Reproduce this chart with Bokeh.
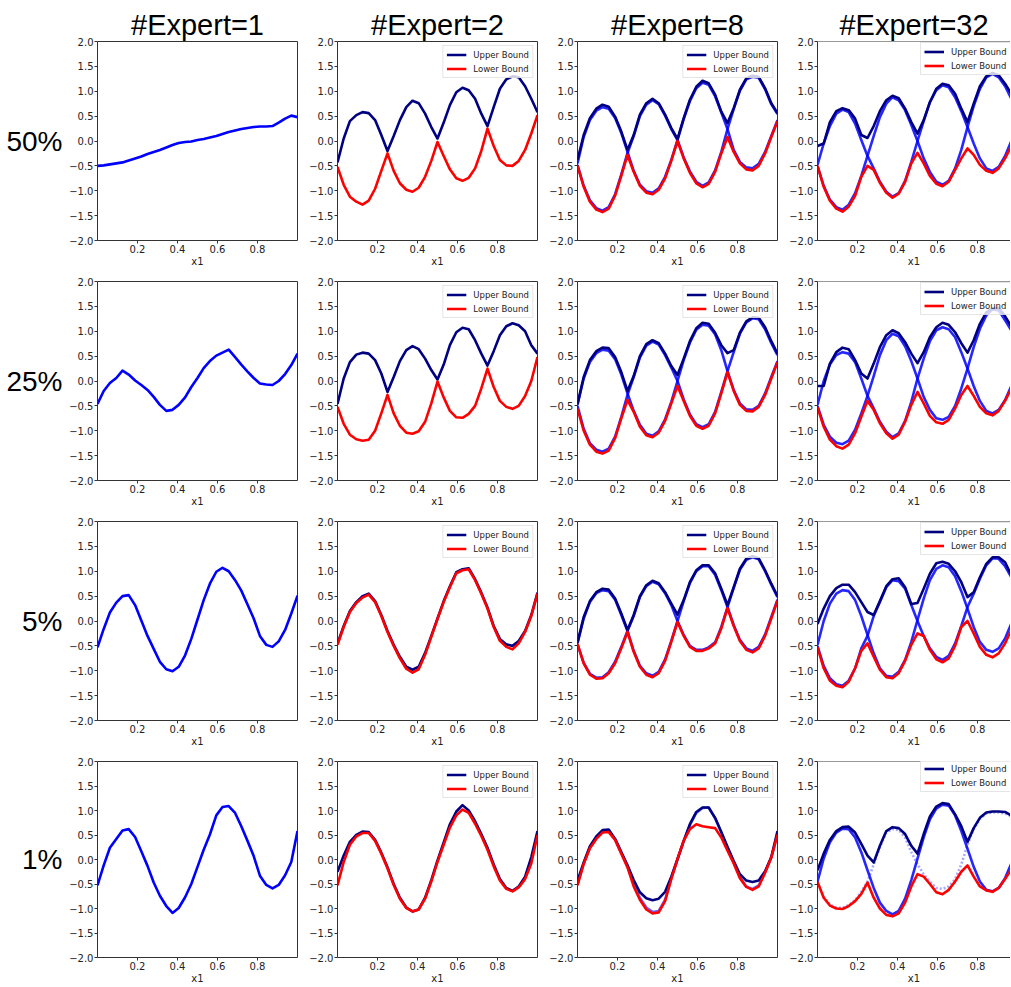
from bokeh.plotting import figure
from bokeh.layouts import column, row
from bokeh.models import Range1d, FixedTicker, Legend, LegendItem, Span, Label
from bokeh.embed import file_html
from bokeh.resources import INLINE

# ---------------- data ----------------
X = [0.0, 0.031, 0.062, 0.094, 0.125, 0.156, 0.188, 0.219, 0.25, 0.281, 0.312, 0.344, 0.375,
     0.406, 0.438, 0.469, 0.5, 0.531, 0.562, 0.594, 0.625, 0.656, 0.688, 0.719, 0.75, 0.781,
     0.812, 0.844, 0.875, 0.906, 0.938, 0.969, 1.0]

ROW_LABELS = ["50%", "25%", "5%", "1%"]
COL_TITLES = ["#Expert=1", "#Expert=2", "#Expert=8", "#Expert=32"]
X_TICKS = [0.2, 0.4, 0.6, 0.8]
X_LABELS = ["0.2", "0.4", "0.6", "0.8"]
Y_TICKS = [-2.0, -1.5, -1.0, -0.5, 0.0, 0.5, 1.0, 1.5, 2.0]
Y_LABELS = ["\u22122.0", "\u22121.5", "\u22121.0", "\u22120.5", "0.0", "0.5", "1.0", "1.5", "2.0"]
LEGEND_LABELS = ["Upper Bound", "Lower Bound"]

# ----- 50% -----
E1_50 = [-0.50, -0.49, -0.47, -0.45, -0.43, -0.39, -0.35, -0.31, -0.26, -0.22, -0.18, -0.13, -0.08,
         -0.04, -0.02, -0.01, 0.02, 0.04, 0.07, 0.10, 0.14, 0.18, 0.21, 0.24, 0.26, 0.28, 0.29, 0.29,
         0.30, 0.37, 0.45, 0.51, 0.48]
E2_50_U = [-0.43, 0.05, 0.40, 0.52, 0.58, 0.56, 0.42, 0.12, -0.20, 0.10, 0.42, 0.68, 0.81, 0.76, 0.55,
           0.28, 0.05, 0.37, 0.72, 0.98, 1.07, 1.02, 0.85, 0.55, 0.30, 0.68, 1.05, 1.24, 1.30, 1.28,
           1.10, 0.85, 0.58]
E2_50_L = [-0.52, -0.88, -1.12, -1.22, -1.28, -1.20, -0.96, -0.60, -0.25, -0.60, -0.85, -0.98, -1.02,
           -0.94, -0.72, -0.40, -0.02, -0.30, -0.57, -0.75, -0.80, -0.74, -0.55, -0.20, 0.25, -0.10,
           -0.38, -0.49, -0.50, -0.40, -0.18, 0.15, 0.52]
E8_50_U = [-0.38, 0.12, 0.46, 0.65, 0.73, 0.69, 0.49, 0.19, -0.18, 0.12, 0.53, 0.76, 0.85, 0.76, 0.53,
           0.26, 0.04, 0.46, 0.83, 1.09, 1.21, 1.16, 0.93, 0.59, 0.36, 0.66, 1.03, 1.26, 1.31, 1.29,
           1.06, 0.76, 0.56]
E8_50_L = [-0.50, -0.92, -1.22, -1.38, -1.43, -1.36, -1.10, -0.70, -0.28, -0.62, -0.90, -1.04, -1.07,
           -0.98, -0.75, -0.40, 0.00, -0.35, -0.64, -0.85, -0.93, -0.86, -0.62, -0.25, 0.08, -0.22,
           -0.45, -0.57, -0.59, -0.50, -0.25, 0.08, 0.40]
E8_50_A = [-0.45, 0.08, 0.42, 0.61, 0.68, 0.65, 0.46, 0.16, -0.22, -0.60, -0.88, -1.01, -1.04, -0.95,
           -0.72, -0.38, 0.02, 0.44, 0.80, 1.06, 1.17, 1.13, 0.90, 0.57, 0.24, -0.18, -0.42, -0.53,
           -0.55, -0.46, -0.22, 0.10, 0.42]
E8_50_B = [-0.48, -0.90, -1.19, -1.35, -1.40, -1.33, -1.07, -0.67, -0.24, 0.10, 0.50, 0.73, 0.82, 0.74,
           0.51, 0.24, 0.02, -0.33, -0.61, -0.82, -0.90, -0.83, -0.59, -0.22, 0.24, 0.64, 1.01, 1.24,
           1.29, 1.27, 1.04, 0.74, 0.54]
E32_50_U = [-0.10, -0.05, 0.38, 0.60, 0.66, 0.62, 0.45, 0.12, 0.06, 0.30, 0.60, 0.82, 0.91, 0.86, 0.65,
            0.38, 0.15, 0.42, 0.78, 1.05, 1.15, 1.12, 0.95, 0.65, 0.38, 0.75, 1.10, 1.30, 1.37, 1.32,
            1.15, 0.95, 0.75]
E32_50_L = [-0.50, -0.92, -1.20, -1.36, -1.42, -1.32, -1.10, -0.72, -0.50, -0.58, -0.84, -1.04, -1.14,
            -1.06, -0.82, -0.45, -0.24, -0.45, -0.70, -0.86, -0.91, -0.82, -0.58, -0.35, -0.15, -0.28,
            -0.48, -0.60, -0.64, -0.55, -0.35, -0.10, 0.10]
E32_50_A = [-0.48, -0.05, 0.30, 0.55, 0.63, 0.58, 0.35, 0.02, -0.30, -0.55, -0.82, -1.02, -1.12, -1.05,
            -0.80, -0.42, 0.00, 0.40, 0.78, 1.02, 1.12, 1.08, 0.88, 0.60, 0.28, -0.05, -0.35, -0.55,
            -0.60, -0.52, -0.30, 0.00, 0.25]
E32_50_B = [-0.50, -0.90, -1.18, -1.33, -1.38, -1.28, -1.05, -0.70, -0.30, 0.10, 0.48, 0.75, 0.88, 0.82,
            0.62, 0.32, 0.00, -0.35, -0.62, -0.82, -0.88, -0.80, -0.55, -0.18, 0.28, 0.70, 1.05, 1.28,
            1.35, 1.28, 1.10, 0.85, 0.60]

# ----- 25% -----
E1_25 = [-0.46, -0.20, -0.04, 0.06, 0.21, 0.13, 0.01, -0.08, -0.18, -0.32, -0.48, -0.60, -0.58, -0.48,
         -0.33, -0.12, 0.06, 0.26, 0.40, 0.51, 0.57, 0.63, 0.48, 0.33, 0.19, 0.06, -0.05, -0.07, -0.08,
         0.00, 0.14, 0.32, 0.55]
E2_25_U = [-0.46, 0.05, 0.38, 0.53, 0.57, 0.55, 0.42, 0.15, -0.22, 0.08, 0.40, 0.62, 0.70, 0.64, 0.45,
           0.22, 0.03, 0.33, 0.72, 0.98, 1.07, 1.04, 0.82, 0.55, 0.31, 0.60, 0.92, 1.10, 1.16, 1.12,
           1.00, 0.72, 0.55]
E2_25_L = [-0.52, -0.86, -1.08, -1.17, -1.20, -1.18, -1.00, -0.65, -0.28, -0.65, -0.90, -1.04, -1.06,
           -1.01, -0.82, -0.45, -0.01, -0.33, -0.60, -0.73, -0.74, -0.66, -0.50, -0.15, 0.25, -0.12,
           -0.40, -0.52, -0.56, -0.50, -0.30, 0.00, 0.48]
E8_25_U = [-0.46, 0.08, 0.42, 0.60, 0.67, 0.66, 0.48, 0.18, -0.20, 0.10, 0.50, 0.74, 0.82, 0.76, 0.55,
           0.30, 0.12, 0.45, 0.80, 1.06, 1.17, 1.15, 0.97, 0.72, 0.56, 0.62, 0.97, 1.20, 1.28, 1.27,
           1.08, 0.80, 0.55]
E8_25_L = [-0.56, -1.00, -1.28, -1.42, -1.46, -1.40, -1.15, -0.75, -0.38, -0.62, -0.92, -1.09, -1.13,
           -1.04, -0.80, -0.45, -0.10, -0.40, -0.70, -0.90, -0.96, -0.90, -0.65, -0.25, 0.18, -0.20,
           -0.48, -0.60, -0.61, -0.52, -0.28, 0.05, 0.38]
E8_25_A = [-0.48, 0.05, 0.38, 0.56, 0.63, 0.61, 0.44, 0.13, -0.25, -0.60, -0.88, -1.06, -1.10, -1.01,
           -0.77, -0.42, 0.00, 0.42, 0.77, 1.03, 1.13, 1.11, 0.94, 0.62, 0.20, -0.18, -0.45, -0.57,
           -0.58, -0.50, -0.25, 0.08, 0.40]
E8_25_B = [-0.50, -0.96, -1.25, -1.38, -1.42, -1.36, -1.12, -0.72, -0.28, 0.08, 0.47, 0.71, 0.79, 0.73,
           0.52, 0.27, 0.00, -0.37, -0.67, -0.87, -0.93, -0.87, -0.62, -0.22, 0.20, 0.58, 0.95, 1.18,
           1.26, 1.24, 1.04, 0.76, 0.52]
E32_25_U = [-0.10, -0.10, 0.35, 0.58, 0.67, 0.64, 0.42, 0.15, 0.05, 0.35, 0.68, 0.92, 1.02, 0.96, 0.78,
            0.55, 0.36, 0.58, 0.88, 1.08, 1.17, 1.13, 0.98, 0.76, 0.57, 0.82, 1.15, 1.38, 1.46, 1.47,
            1.30, 1.10, 0.85]
E32_25_L = [-0.53, -0.92, -1.18, -1.31, -1.36, -1.28, -1.05, -0.72, -0.40, -0.58, -0.85, -1.05, -1.16,
            -1.08, -0.82, -0.48, -0.22, -0.45, -0.70, -0.83, -0.86, -0.78, -0.55, -0.28, -0.10, -0.30,
            -0.52, -0.65, -0.69, -0.60, -0.40, -0.15, 0.10]
E32_25_A = [-0.48, 0.00, 0.33, 0.52, 0.58, 0.55, 0.38, 0.05, -0.30, -0.55, -0.82, -1.02, -1.13, -1.05,
            -0.80, -0.42, 0.05, 0.45, 0.80, 1.02, 1.08, 1.04, 0.88, 0.58, 0.25, -0.10, -0.40, -0.60,
            -0.65, -0.58, -0.38, -0.10, 0.15]
E32_25_B = [-0.50, -0.88, -1.12, -1.24, -1.27, -1.20, -0.98, -0.65, -0.30, 0.10, 0.52, 0.82, 0.95, 0.90,
            0.70, 0.40, 0.05, -0.32, -0.58, -0.75, -0.78, -0.72, -0.50, -0.15, 0.25, 0.68, 1.05, 1.32,
            1.44, 1.42, 1.22, 1.02, 0.82]

# ----- 5% -----
E1_5 = [-0.53, -0.16, 0.17, 0.37, 0.50, 0.52, 0.32, 0.01, -0.30, -0.56, -0.82, -0.97, -1.01, -0.92,
        -0.69, -0.36, 0.03, 0.42, 0.75, 0.99, 1.07, 1.00, 0.82, 0.61, 0.33, 0.05, -0.30, -0.48, -0.52,
        -0.41, -0.18, 0.15, 0.51]
E2_5_U = [-0.45, -0.10, 0.20, 0.38, 0.50, 0.55, 0.40, 0.12, -0.20, -0.48, -0.72, -0.92, -0.98, -0.92,
          -0.64, -0.30, 0.05, 0.40, 0.70, 0.98, 1.04, 1.06, 0.84, 0.57, 0.27, -0.10, -0.36, -0.47, -0.50,
          -0.40, -0.20, 0.12, 0.57]
E2_5_L = [-0.48, -0.12, 0.18, 0.36, 0.47, 0.53, 0.38, 0.10, -0.22, -0.50, -0.75, -0.96, -1.04, -0.97,
          -0.68, -0.32, 0.04, 0.38, 0.68, 0.96, 1.02, 1.04, 0.82, 0.55, 0.25, -0.12, -0.40, -0.52, -0.57,
          -0.45, -0.22, 0.10, 0.55]
E8_5_U = [-0.43, 0.08, 0.40, 0.58, 0.65, 0.63, 0.45, 0.15, -0.18, 0.12, 0.50, 0.72, 0.81, 0.76, 0.58,
          0.35, 0.13, 0.42, 0.78, 1.02, 1.12, 1.12, 0.96, 0.65, 0.32, 0.68, 1.05, 1.25, 1.30, 1.26,
          1.02, 0.75, 0.50]
E8_5_L = [-0.46, -0.85, -1.08, -1.16, -1.15, -1.05, -0.85, -0.55, -0.22, -0.62, -0.92, -1.08, -1.13,
          -1.05, -0.80, -0.42, -0.02, -0.30, -0.52, -0.60, -0.60, -0.55, -0.45, -0.15, 0.26, -0.10,
          -0.40, -0.58, -0.63, -0.55, -0.30, 0.05, 0.41]
E8_5_A = [-0.45, 0.05, 0.38, 0.56, 0.62, 0.60, 0.43, 0.12, -0.20, -0.60, -0.90, -1.05, -1.10, -1.02,
          -0.77, -0.40, 0.00, 0.40, 0.76, 1.00, 1.10, 1.10, 0.93, 0.62, 0.28, -0.08, -0.38, -0.55, -0.60,
          -0.52, -0.27, 0.08, 0.43]
E8_5_B = [-0.47, -0.84, -1.06, -1.14, -1.13, -1.03, -0.82, -0.52, -0.20, 0.10, 0.48, 0.70, 0.79, 0.74,
          0.56, 0.32, 0.00, -0.28, -0.50, -0.58, -0.58, -0.53, -0.43, -0.12, 0.28, 0.66, 1.03, 1.23,
          1.28, 1.24, 1.00, 0.73, 0.48]
E32_5_U = [-0.06, 0.25, 0.50, 0.66, 0.73, 0.73, 0.58, 0.38, 0.18, 0.12, 0.40, 0.70, 0.84, 0.86, 0.68,
           0.34, 0.36, 0.65, 0.95, 1.16, 1.19, 1.15, 1.00, 0.78, 0.48, 0.58, 0.88, 1.15, 1.28, 1.28,
           1.18, 0.92, 0.75]
E32_5_L = [-0.53, -0.95, -1.20, -1.30, -1.33, -1.22, -0.95, -0.60, -0.45, -0.72, -0.98, -1.13, -1.15,
           -1.05, -0.80, -0.48, -0.25, -0.30, -0.58, -0.77, -0.83, -0.75, -0.50, -0.12, 0.00, -0.25,
           -0.52, -0.68, -0.73, -0.65, -0.45, -0.18, 0.05]
E32_5_A = [-0.48, 0.00, 0.35, 0.55, 0.62, 0.60, 0.42, 0.10, -0.28, -0.65, -0.95, -1.10, -1.12, -1.02,
           -0.78, -0.42, 0.02, 0.45, 0.82, 1.05, 1.12, 1.08, 0.90, 0.60, 0.25, -0.12, -0.42, -0.58,
           -0.62, -0.55, -0.35, -0.05, 0.20]
E32_5_B = [-0.50, -0.90, -1.15, -1.27, -1.30, -1.20, -0.95, -0.55, -0.30, 0.10, 0.38, 0.68, 0.82, 0.80,
           0.65, 0.32, 0.00, -0.30, -0.55, -0.72, -0.78, -0.70, -0.45, -0.10, 0.28, 0.55, 0.85, 1.12,
           1.26, 1.25, 1.10, 0.88, 0.70]

# ----- 1% -----
E1_1 = [-0.53, -0.12, 0.24, 0.42, 0.59, 0.62, 0.46, 0.17, -0.13, -0.47, -0.74, -0.95, -1.09, -0.99,
        -0.77, -0.50, -0.15, 0.20, 0.51, 0.90, 1.07, 1.09, 0.95, 0.68, 0.38, 0.07, -0.33, -0.52, -0.59,
        -0.52, -0.32, -0.05, 0.58]
E2_1_U = [-0.25, 0.08, 0.36, 0.50, 0.57, 0.56, 0.40, 0.14, -0.16, -0.50, -0.78, -0.98, -1.06, -1.02,
          -0.78, -0.42, -0.02, 0.35, 0.72, 0.98, 1.11, 1.00, 0.78, 0.52, 0.24, -0.10, -0.40, -0.58,
          -0.64, -0.55, -0.35, 0.05, 0.58]
E2_1_L = [-0.53, -0.05, 0.30, 0.47, 0.54, 0.54, 0.38, 0.12, -0.18, -0.52, -0.80, -0.99, -1.06, -1.02,
          -0.80, -0.45, -0.05, 0.30, 0.65, 0.90, 1.02, 0.95, 0.73, 0.48, 0.20, -0.14, -0.43, -0.60,
          -0.65, -0.57, -0.40, -0.08, 0.50]
E8_1_U = [-0.43, -0.06, 0.27, 0.47, 0.60, 0.61, 0.42, 0.15, -0.12, -0.42, -0.67, -0.79, -0.83, -0.80,
          -0.66, -0.35, 0.01, 0.38, 0.72, 0.97, 1.06, 1.06, 0.85, 0.56, 0.26, -0.03, -0.30, -0.43, -0.46,
          -0.43, -0.24, 0.05, 0.58]
E8_1_L = [-0.53, -0.09, 0.23, 0.42, 0.55, 0.56, 0.40, 0.12, -0.16, -0.55, -0.82, -1.02, -1.10, -1.08,
          -0.85, -0.40, 0.01, 0.38, 0.62, 0.72, 0.68, 0.66, 0.64, 0.45, 0.18, -0.08, -0.38, -0.56, -0.62,
          -0.55, -0.27, 0.04, 0.51]
E8_1_A = [-0.50, -0.08, 0.25, 0.44, 0.57, 0.58, 0.41, 0.13, -0.14, -0.50, -0.78, -0.98, -1.07, -1.05,
          -0.82, -0.38, 0.00, 0.38, 0.70, 0.95, 1.05, 1.06, 0.84, 0.55, 0.22, -0.06, -0.36, -0.55, -0.60,
          -0.53, -0.26, 0.04, 0.52]
E32_1_U = [-0.22, 0.12, 0.40, 0.58, 0.66, 0.67, 0.55, 0.32, 0.08, -0.06, 0.28, 0.58, 0.66, 0.64, 0.52,
           0.28, 0.12, 0.52, 0.88, 1.08, 1.15, 1.13, 0.92, 0.68, 0.36, 0.64, 0.85, 0.96, 0.98, 0.98,
           0.97, 0.90, 0.82]
E32_1_L = [-0.46, -0.78, -0.94, -1.00, -1.01, -0.95, -0.85, -0.70, -0.47, -0.78, -1.00, -1.13, -1.16,
           -1.10, -0.88, -0.55, -0.30, -0.35, -0.50, -0.67, -0.71, -0.62, -0.45, -0.25, -0.12, -0.35,
           -0.55, -0.63, -0.66, -0.58, -0.40, -0.20, 0.00]
E32_1_A = [-0.45, 0.02, 0.35, 0.55, 0.63, 0.62, 0.45, 0.15, -0.22, -0.58, -0.88, -1.05, -1.12, -1.05,
           -0.80, -0.42, 0.02, 0.45, 0.82, 1.04, 1.12, 1.10, 0.90, 0.58, 0.22, -0.15, -0.45, -0.62,
           -0.65, -0.58, -0.38, -0.08, 0.20]
E32_1_B = [-0.45, -0.76, -0.92, -0.98, -0.99, -0.93, -0.83, -0.66, -0.45, -0.10, 0.25, 0.55, 0.62, 0.60,
           0.45, 0.15, -0.10, -0.30, -0.45, -0.58, -0.60, -0.55, -0.40, -0.10, 0.30, 0.62, 0.83, 0.94,
           0.96, 0.96, 0.94, 0.88, 0.80]

# panel table: (blue curves [(values, alpha, dash)], upper, lower)
SOLID = 0.85
PANELS = [
    [([(E1_50, 1.0, "solid")], None, None),
     ([], E2_50_U, E2_50_L),
     ([(E8_50_A, SOLID, "solid"), (E8_50_B, SOLID, "solid")], E8_50_U, E8_50_L),
     ([(E32_50_A, SOLID, "solid"), (E32_50_B, SOLID, "solid")], E32_50_U, E32_50_L)],
    [([(E1_25, 1.0, "solid")], None, None),
     ([], E2_25_U, E2_25_L),
     ([(E8_25_A, SOLID, "solid"), (E8_25_B, SOLID, "solid")], E8_25_U, E8_25_L),
     ([(E32_25_A, SOLID, "solid"), (E32_25_B, SOLID, "solid")], E32_25_U, E32_25_L)],
    [([(E1_5, 1.0, "solid")], None, None),
     ([], E2_5_U, E2_5_L),
     ([(E8_5_A, SOLID, "solid"), (E8_5_B, SOLID, "solid")], E8_5_U, E8_5_L),
     ([(E32_5_A, SOLID, "solid"), (E32_5_B, SOLID, "solid")], E32_5_U, E32_5_L)],
    [([(E1_1, 1.0, "solid")], None, None),
     ([], E2_1_U, E2_1_L),
     ([(E8_1_A, 0.6, "solid")], E8_1_U, E8_1_L),
     ([(E32_1_A, SOLID, "solid"), (E32_1_B, 0.35, "2 2")], E32_1_U, E32_1_L)],
]

# ---------------- layout constants ----------------
FRAME_W = 200
FRAME_W_LAST = 193
FRAME_H = 199
LEFT = 35
RIGHT = 5
TOP_FIRST = 41
TOP = 6
BOTTOM = 35
BOTTOM_LAST = 26
LABEL_W = 62
SPINE = "#333333"
LW = 2.6
LEGEND_H = 30
LEGEND_X_LAST = 103


def style_axes(p, last_col):
    p.xgrid.visible = False
    p.ygrid.visible = False
    for ax in (p.xaxis[0], p.yaxis[0]):
        ax.major_label_text_font = "DejaVu Sans"
        ax.major_label_text_font_size = "10px"
        ax.major_label_text_color = "#222222"
        ax.major_tick_out = 3
        ax.major_tick_in = 0
        ax.major_tick_line_color = SPINE
        ax.minor_tick_line_color = None
        ax.axis_line_color = SPINE if last_col else None
    p.xaxis.ticker = FixedTicker(ticks=X_TICKS)
    p.xaxis.major_label_overrides = dict(zip(X_TICKS, X_LABELS))
    p.yaxis.ticker = FixedTicker(ticks=Y_TICKS)
    p.yaxis.major_label_overrides = dict(zip(Y_TICKS, Y_LABELS))
    p.xaxis.major_label_standoff = 1
    p.yaxis.major_label_standoff = 1
    p.xaxis.axis_label = "x1"
    p.xaxis.axis_label_standoff = 0
    p.xaxis.axis_label_text_font = "DejaVu Sans"
    p.xaxis.axis_label_text_font_size = "10px"
    p.xaxis.axis_label_text_font_style = "normal"
    p.xaxis.axis_label_text_color = "#222222"


def make_panel(r, c):
    last_col = c == 3
    fw = FRAME_W_LAST if last_col else FRAME_W
    right = 0 if last_col else RIGHT
    top = TOP_FIRST if r == 0 else TOP
    bottom = BOTTOM_LAST if r == 3 else BOTTOM
    p = figure(width=LEFT + fw + right, height=top + FRAME_H + bottom,
               x_range=Range1d(0, fw / FRAME_W), y_range=Range1d(-2, 2),
               output_backend="svg", toolbar_location=None,
               min_border_left=LEFT, min_border_right=right,
               min_border_top=top, min_border_bottom=bottom,
               background_fill_color="white", border_fill_color="white")
    if last_col:
        p.outline_line_color = None
        p.add_layout(Span(location=2.0, dimension="width", line_color=SPINE, line_width=1))
    else:
        p.outline_line_color = SPINE
        p.outline_line_width = 1
    style_axes(p, last_col)

    if r == 0:
        p.title.text = COL_TITLES[c]
        p.title.text_font = "Liberation Sans"
        p.title.text_font_size = "29px"
        p.title.text_font_style = "normal"
        p.title.text_color = "black"
        p.title.align = "center"
        p.title.standoff = 2

    blues, upper, lower = PANELS[r][c]
    for vals, alpha, dash in blues:
        p.line(X, vals, line_color="#0000ff", line_width=LW, line_alpha=alpha,
               line_dash=dash, line_join="round")
    if upper is not None:
        ru = p.line(X, upper, line_color="#000080", line_width=LW, line_join="round")
        rl = p.line(X, lower, line_color="#ff0000", line_width=LW, line_join="round")
        leg = Legend(items=[LegendItem(label=LEGEND_LABELS[0], renderers=[ru]),
                            LegendItem(label=LEGEND_LABELS[1], renderers=[rl])])
        leg.label_text_font = "DejaVu Sans"
        leg.label_text_font_size = "8.5px"
        leg.label_text_color = "#222222"
        leg.glyph_width = 20
        leg.glyph_height = 11
        leg.label_height = 11
        leg.label_standoff = 7
        leg.spacing = 3
        leg.padding = 3
        leg.margin = 4
        leg.border_line_color = "#cccccc"
        leg.border_line_width = 1
        leg.background_fill_alpha = 0.8
        if last_col:
            leg.location = (LEGEND_X_LAST, FRAME_H - 4 - LEGEND_H)
        else:
            leg.location = "top_right"
        p.add_layout(leg)
    return p


def make_label(r):
    top = TOP_FIRST if r == 0 else TOP
    bottom = BOTTOM_LAST if r == 3 else BOTTOM
    p = figure(width=LABEL_W, height=top + FRAME_H + bottom,
               x_range=Range1d(0, 1), y_range=Range1d(-2, 2),
               x_axis_type=None, y_axis_type=None,
               output_backend="svg", toolbar_location=None,
               min_border_left=0, min_border_right=0,
               min_border_top=top, min_border_bottom=bottom,
               outline_line_color=None)
    p.xgrid.visible = False
    p.ygrid.visible = False
    p.add_layout(Label(x=1.0, y=0.0, text=ROW_LABELS[r], text_align="right",
                       text_baseline="middle", text_font="Liberation Sans",
                       text_font_size="28px", text_color="black"))
    return p


rows = []
for r in range(4):
    rows.append(row([make_label(r)] + [make_panel(r, c) for c in range(4)], spacing=0))
layout = column(rows, spacing=0)

open("out.html", "w").write(file_html(layout, INLINE))
